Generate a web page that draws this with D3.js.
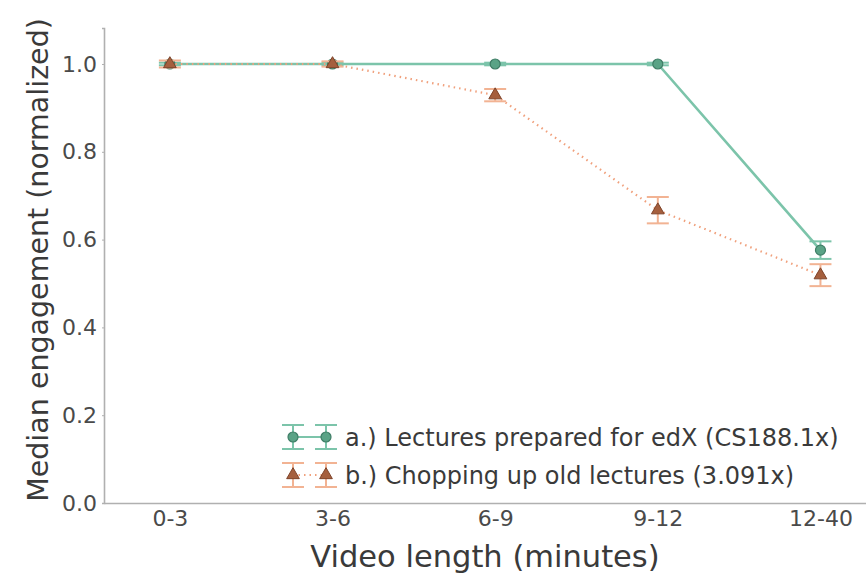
<!DOCTYPE html>
<html><head><meta charset="utf-8">
<script src="https://cdn.jsdelivr.net/npm/d3@7"></script>
<style>body{margin:0;background:#fff;} text{font-family:"DejaVu Sans",sans-serif;}</style>
</head><body><svg id="c" width="866" height="577"></svg>
<script>
const categories = ["0-3","3-6","6-9","9-12","12-40"];
const seriesA = [1.0, 1.0, 1.0, 1.0, 0.576];
const errA = [0.003, 0.003, 0.003, 0.003, 0.02];
const seriesB = [1.0, 1.0, 0.929, 0.667, 0.519];
const errB = [0.008, 0.006, 0.014, 0.03, 0.025];
const yTicks = [0.0, 0.2, 0.4, 0.6, 0.8, 1.0];
const labelA = "a.) Lectures prepared for edX (CS188.1x)";
const labelB = "b.) Chopping up old lectures (3.091x)";

const svg = d3.select("#c");
const mLeft = 104, mBottom = 503, mTop = 28, mRight = 866;
const x = d3.scaleLinear().domain([-0.405, 4.28]).range([mLeft, mRight]);
const y = d3.scaleLinear().domain([0, 1.082]).range([mBottom, mTop]);

const yAxis = d3.axisLeft(y).tickValues(yTicks).tickFormat(d3.format(".1f")).tickSize(2).tickPadding(5);
const gy = svg.append("g").attr("transform",`translate(${mLeft},0)`).call(yAxis);
const xAxis = d3.axisBottom(x).tickValues(d3.range(categories.length)).tickFormat(i=>categories[i]).tickSize(0).tickPadding(7);
const gx = svg.append("g").attr("transform",`translate(0,${mBottom})`).call(xAxis);
[gx, gy].forEach(g=>{
  g.select(".domain").attr("stroke","#b0b0b0").attr("stroke-width",1.6);
  g.selectAll(".tick line").attr("stroke","#b0b0b0");
  g.selectAll(".tick text").attr("fill","#4a4a4a").style("font-size","22px").style("font-family","DejaVu Sans");
});

svg.append("text").attr("x",485).attr("y",567).attr("text-anchor","middle")
  .attr("fill","#3a3a3a").style("font-size","30.5px").text("Video length (minutes)");
svg.append("text").attr("transform","translate(48,260) rotate(-90)").attr("text-anchor","middle")
  .attr("fill","#3a3a3a").style("font-size","28.5px").text("Median engagement (normalized)");

const greenLine = "#7cc4aa", greenFill = "#5aa386", greenEdge = "#3f7d66";
const orangeLine = "#f0a07c", orangeErr = "#f2b393", orangeFill = "#a55f3e", orangeEdge = "#7e4329";
const capW = 11;

const line = d3.line().x((d,i)=>x(i)).y(d=>y(d));

function errbars(vals, errs, color){
  const g = svg.append("g").attr("stroke",color).attr("stroke-width",2);
  vals.forEach((v,i)=>{
    const cx = x(i), y1 = y(v+errs[i]), y2 = y(v-errs[i]);
    g.append("line").attr("x1",cx).attr("x2",cx).attr("y1",y1).attr("y2",y2);
    g.append("line").attr("x1",cx-capW).attr("x2",cx+capW).attr("y1",y1).attr("y2",y1);
    g.append("line").attr("x1",cx-capW).attr("x2",cx+capW).attr("y1",y2).attr("y2",y2);
  });
}
const tri = d3.symbol().type(d3.symbolTriangle).size(70);
function triangle(g, cx, cy){
  g.append("path").attr("d",tri()).attr("transform",`translate(${cx},${cy})`)
   .attr("fill",orangeFill).attr("stroke",orangeEdge).attr("stroke-width",1);
}
function circle(g, cx, cy){
  g.append("circle").attr("cx",cx).attr("cy",cy).attr("r",5)
   .attr("fill",greenFill).attr("stroke",greenEdge).attr("stroke-width",1.2);
}

svg.append("path").datum(seriesA).attr("d",line).attr("fill","none")
  .attr("stroke",greenLine).attr("stroke-width",2.6);
errbars(seriesA, errA, greenLine);
const mgA = svg.append("g");
seriesA.forEach((v,i)=>circle(mgA, x(i), y(v)));

svg.append("path").datum(seriesB).attr("d",line).attr("fill","none")
  .attr("stroke",orangeLine).attr("stroke-width",2.2).attr("stroke-dasharray","1.5,4");
errbars(seriesB, errB, orangeErr);
const mgB = svg.append("g");
seriesB.forEach((v,i)=>triangle(mgB, x(i), y(v)));

const lg = svg.append("g");
const lx1 = 293, lx2 = 326;
function legendRow(cy, color, lineColor, dash, marker, label, e){
  lg.append("line").attr("x1",lx1).attr("x2",lx2).attr("y1",cy).attr("y2",cy)
    .attr("stroke",lineColor).attr("stroke-width",2.2).attr("stroke-dasharray",dash);
  [lx1,lx2].forEach(cx=>{
    lg.append("line").attr("x1",cx).attr("x2",cx).attr("y1",cy-e).attr("y2",cy+e).attr("stroke",color).attr("stroke-width",2);
    lg.append("line").attr("x1",cx-capW).attr("x2",cx+capW).attr("y1",cy-e).attr("y2",cy-e).attr("stroke",color).attr("stroke-width",2);
    lg.append("line").attr("x1",cx-capW).attr("x2",cx+capW).attr("y1",cy+e).attr("y2",cy+e).attr("stroke",color).attr("stroke-width",2);
    marker(lg, cx, cy);
  });
  lg.append("text").attr("x",345).attr("y",cy).attr("dy","0.36em").attr("fill","#3a3a3a")
    .style("font-size","24px").text(label);
}
legendRow(437, greenLine, greenLine, null, circle, labelA, 12);
legendRow(475, orangeErr, orangeLine, "1.5,4", triangle, labelB, 12);
</script></body></html>
